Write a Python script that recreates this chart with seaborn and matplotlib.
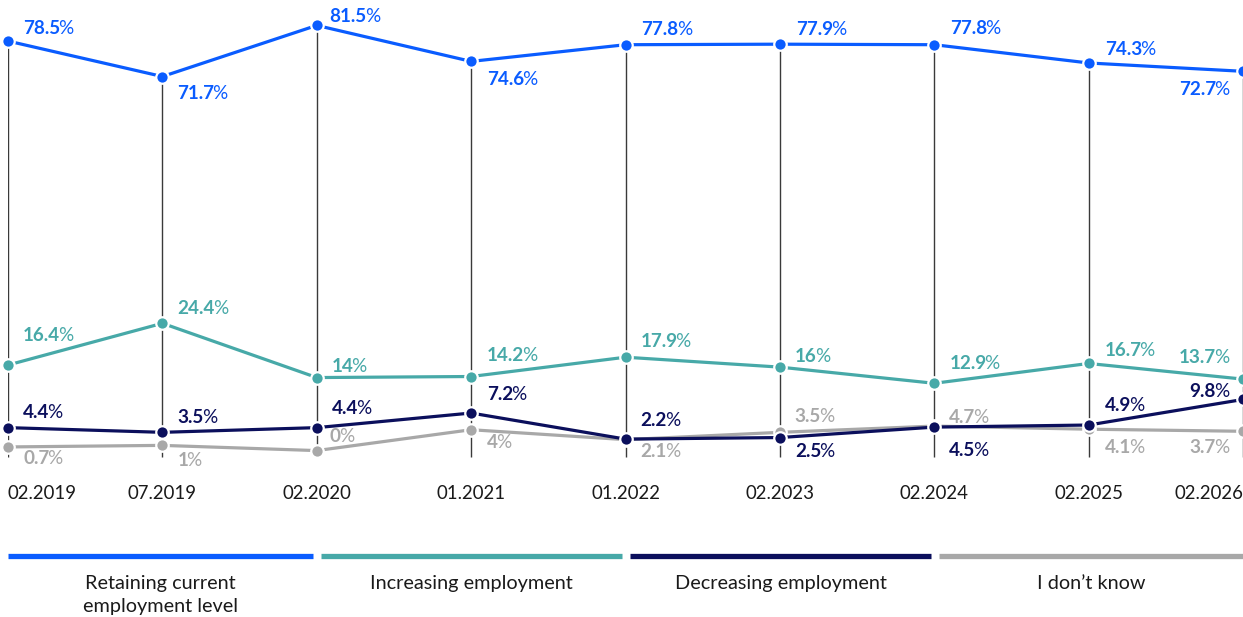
import numpy as np
import pandas as pd
import matplotlib
matplotlib.use("Agg")
import matplotlib.pyplot as plt
import seaborn as sns

# Survey waves
periods = ["02.2019", "07.2019", "02.2020", "01.2021", "01.2022",
           "02.2023", "02.2024", "02.2025", "02.2026"]

# Share of answers per wave (%)
retaining = [78.5, 71.7, 81.5, 74.6, 77.8, 77.9, 77.8, 74.3, 72.7]
increasing = [16.4, 24.4, 14.0, 14.2, 17.9, 16.0, 12.9, 16.7, 13.7]
decreasing = [4.4, 3.5, 4.4, 7.2, 2.2, 2.5, 4.5, 4.9, 9.8]
dont_know = [0.7, 1.0, 0.0, 4.0, 2.1, 3.5, 4.7, 4.1, 3.7]

series_names = ["Retaining current\nemployment level", "Increasing employment",
                "Decreasing employment", "I don\u2019t know"]
series_values = [retaining, increasing, decreasing, dont_know]
colors = ["#0a5cff", "#47a9a8", "#0b0f5c", "#a8a8a8"]

# Label placement around each point (pixels: right, up)
label_offsets = [
    [(15, 13), (15, -17), (13, 9), (16, -18), (16, 15), (16, 15), (16, 16), (16, 13), (-14, -18)],
    [(15, 30), (15, 15), (15, 11), (16, 21), (15, 16), (15, 11), (15, 20), (16, 13), (-14, 22)],
    [(15, 15), (15, 15), (15, 19), (16, 19), (15, 19), (15, -14), (15, -23), (16, 20), (-14, 8)],
    [(15, -12), (15, -15), (13, 14), (16, -13), (15, -12), (15, 16), (15, 9), (16, -18), (-14, -16)],
]

LABEL_SIZE = 13.6

def fmt(v):
    return f"{v:g}"

rows = []
for name, vals in zip(series_names, series_values):
    for i, v in enumerate(vals):
        rows.append({"x": i, "value": v, "series": name})
df = pd.DataFrame(rows)

sns.set_theme(style="white")
plt.rcParams["font.family"] = ["Lato", "DejaVu Sans"]

W, H = 1243, 617
fig = plt.figure(figsize=(W / 100, H / 100), dpi=100)
ax = fig.add_axes([8 / W, 147 / H, 1235 / W, 470 / H])

# Thin droplines from the top series down to the axis
x_idx = np.arange(len(periods))
ax.vlines(x_idx, -1.25, retaining, color="#3a3a3a", linewidth=1.0, zorder=1)

sns.lineplot(data=df, x="x", y="value", hue="series", hue_order=series_names,
             palette=colors, marker="o", markersize=9, markeredgecolor="white",
             markeredgewidth=1.6, linewidth=2.3, legend=False, ax=ax,
             zorder=3, clip_on=False)

# Make the "Decreasing" line sit above "I don't know"
lines = ax.get_lines()
for ln, z in zip(lines[-4:], [3, 3, 5, 4]):
    ln.set_zorder(z)

ax.set_xlim(0, len(periods) - 1)
ax.set_ylim(-3.72, 86.37)
for s in ax.spines.values():
    s.set_visible(False)
ax.set_yticks([])
ax.set_xticks(x_idx)
ax.set_xticklabels(periods, fontsize=13.4, color="#1a1a1a")
ax.tick_params(axis="x", length=0, pad=10.5)
ticklabels = ax.get_xticklabels()
ticklabels[0].set_ha("left")
ticklabels[-1].set_ha("right")
ax.set_xlabel("")
ax.set_ylabel("")

# Value labels: bold number, lighter percent sign
for vals, color, offs in zip(series_values, colors, label_offsets):
    for i, (v, (dx, dy)) in enumerate(zip(vals, offs)):
        if dx >= 0:
            num = ax.annotate(fmt(v), xy=(i, v), xytext=(dx, dy),
                              textcoords="offset pixels", ha="left", va="center",
                              fontsize=LABEL_SIZE, fontweight="bold", color=color,
                              annotation_clip=False, zorder=6)
            ax.annotate("%", xy=(1, 0.5), xycoords=num, xytext=(-2, 0),
                        textcoords="offset pixels", ha="left", va="center",
                        fontsize=LABEL_SIZE, color=color, annotation_clip=False,
                        zorder=6)
        else:
            pct = ax.annotate("%", xy=(i, v), xytext=(dx, dy),
                              textcoords="offset pixels", ha="right", va="center",
                              fontsize=LABEL_SIZE, color=color,
                              annotation_clip=False, zorder=6)
            ax.annotate(fmt(v), xy=(0, 0.5), xycoords=pct, xytext=(2, 0),
                        textcoords="offset pixels", ha="right", va="center",
                        fontsize=LABEL_SIZE, fontweight="bold", color=color,
                        annotation_clip=False, zorder=6)

# Legend strip along the bottom
lax = fig.add_axes([0, 0, 1, 1], facecolor="none")
lax.set_xlim(0, W)
lax.set_ylim(H, 0)
lax.axis("off")
segments = [(8, 313), (321, 622), (630, 931), (939, 1243)]
for (x0, x1), color, name in zip(segments, colors, series_names):
    lax.plot([x0, x1], [555.5, 555.5], color=color, linewidth=3.8,
             solid_capstyle="butt")
    lax.text((x0 + x1) / 2, 575, name, ha="center", va="top", fontsize=14.3,
             color="#1a1a1a", linespacing=1.45)

fig.savefig("out.png", dpi=100)
